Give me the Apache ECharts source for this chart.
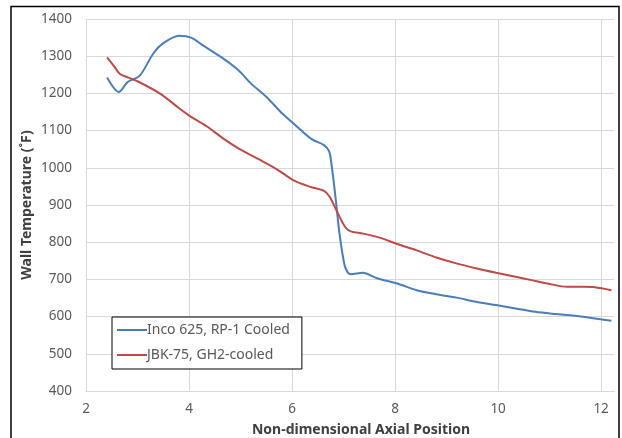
<!DOCTYPE html>
<html><head><meta charset="utf-8">
<script src="https://cdn.jsdelivr.net/npm/echarts@6/dist/echarts.min.js"></script>
<style>html,body{margin:0;padding:0;background:#fff}#c{width:622px;height:438px}</style>
</head><body><div id="c"></div>
<script>
const seriesNames = ['Inco 625, RP-1 Cooled', 'JBK-75, GH2-cooled'];
const incoX = [2.41,2.64,2.81,3.04,3.31,3.5,3.81,4.04,4.27,4.66,4.96,5.2,5.5,5.81,6.04,6.38,6.62,6.72,6.77,6.85,6.92,7.02,7.08,7.14,7.37,7.65,8.04,8.42,8.8,9.19,9.57,9.96,10.34,10.72,11.11,11.49,11.88,12.2];
const incoY = [1243,1204,1231,1247,1308,1335,1355,1350,1329,1294,1262,1227,1191,1146,1118,1077,1061,1044,1005,913,824,738,719,714,718,703,689,671,660,651,640,631,622,613,607,602,595,589];
const jbkX = [2.41,2.55,2.66,2.81,3.01,3.43,3.81,4.04,4.35,4.66,4.96,5.35,5.73,6.02,6.35,6.62,6.73,6.86,6.97,7.05,7.14,7.38,7.73,8.04,8.42,8.8,9.19,9.57,9.96,10.34,10.65,10.96,11.34,11.65,11.88,12.2];
const jbkY = [1297,1272,1252,1243,1232,1200,1160,1137,1111,1079,1052,1023,994,967,949,938,922,886,855,838,829,823,811,795,778,759,743,730,718,707,698,689,680,680,679,671];
const xTicks = [2,4,6,8,10,12];
const yTicks = [400,500,600,700,800,900,1000,1100,1200,1300,1400];

const font = '"Noto Sans", sans-serif';
const pair = (xs, ys) => xs.map((x, i) => [x, ys[i]]);
const chart = echarts.init(document.getElementById('c'));
chart.setOption({
  animation: false,
  backgroundColor: '#fff',
  grid: {left: 86, right: 8, top: 19, bottom: 47, containLabel: false, outerBoundsMode: 'none'},
  xAxis: {
    type: 'value', min: xTicks[0], max: 12.25, interval: 2,
    name: 'Non-dimensional Axial Position', nameLocation: 'middle', nameGap: 32, nameMoveOverlap: false,
    nameTextStyle: {fontFamily: font, fontWeight: 'bold', fontSize: 14, color: '#404040', padding: [0, 0, 0, 22]},
    axisLine: {show: true, lineStyle: {color: '#d9d9d9', width: 1}},
    axisTick: {show: false},
    axisLabel: {fontFamily: font, fontSize: 13.5, color: '#595959', margin: 11, showMaxLabel: false,
      formatter: v => xTicks.includes(v) ? String(v) : ''},
    splitLine: {show: true, showMaxLine: false, lineStyle: {color: '#d9d9d9', width: 1}}
  },
  yAxis: {
    type: 'value', min: yTicks[0], max: yTicks[yTicks.length - 1], interval: 100,
    name: 'Wall Temperature (˚F)', nameLocation: 'middle', nameGap: 52, nameMoveOverlap: false,
    nameTextStyle: {fontFamily: font, fontWeight: 'bold', fontSize: 14, color: '#404040'},
    axisLine: {show: false}, axisTick: {show: false},
    axisLabel: {fontFamily: font, fontSize: 13.5, color: '#595959', margin: 14, formatter: v => String(v)},
    splitLine: {show: true, lineStyle: {color: '#d9d9d9', width: 1}}
  },
  legend: {
    orient: 'vertical', left: 112, top: 317, width: 190,
    backgroundColor: '#fff', borderColor: '#000', borderWidth: 1,
    padding: [6, 12, 7, 5], itemGap: 11, itemWidth: 30, itemHeight: 16,
    icon: 'path://M0,7L30,7L30,9L0,9Z',
    textStyle: {fontFamily: font, fontSize: 14, color: '#595959', padding: [0, 0, 0, -5]},
    data: seriesNames
  },
  graphic: [{type: 'rect', shape: {x: 11, y: 6.5, width: 608, height: 450}, style: {fill: 'none', stroke: '#000', lineWidth: 1.5}, silent: true, z: 100}],
  series: [
    {name: seriesNames[0], type: 'line', data: pair(incoX, incoY), smooth: 0.3, showSymbol: false, lineStyle: {color: '#4a7ebb', width: 2}, itemStyle: {color: '#4a7ebb'}},
    {name: seriesNames[1], type: 'line', data: pair(jbkX, jbkY), smooth: 0.3, showSymbol: false, lineStyle: {color: '#be4b48', width: 2}, itemStyle: {color: '#be4b48'}}
  ]
});
</script></body></html>
